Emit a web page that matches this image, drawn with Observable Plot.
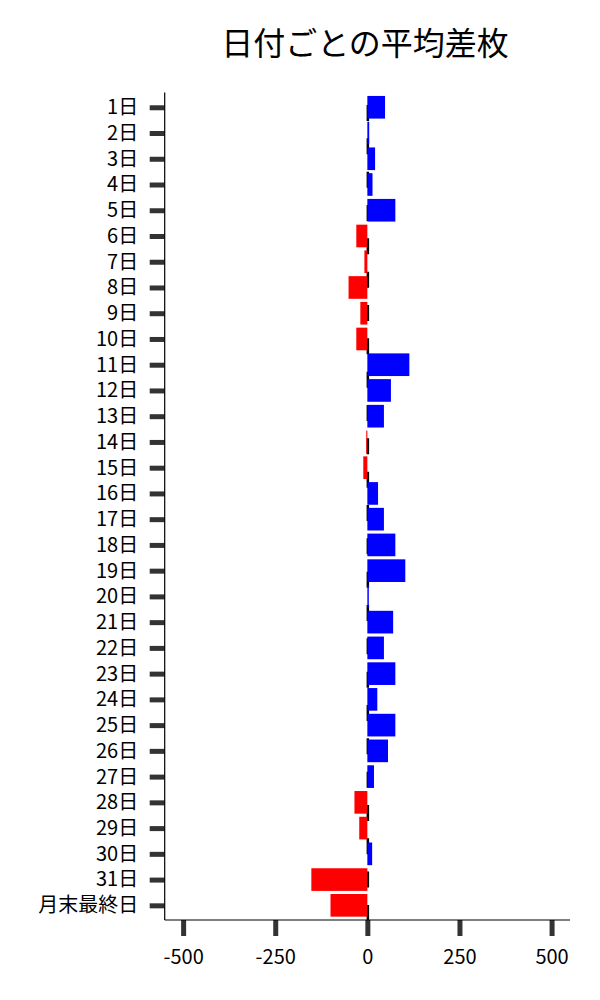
<!DOCTYPE html>
<html><head><meta charset="utf-8">
<script src="https://cdn.jsdelivr.net/npm/d3@7"></script>
<script src="https://cdn.jsdelivr.net/npm/@observablehq/plot@0.6"></script>
<style>
body{margin:0;background:#fff;font-family:"Noto Sans CJK JP";}
#wrap{position:relative;width:600px;}
#title{height:80px;position:relative;}
#title span{position:absolute;left:165px;width:400px;text-align:center;top:25px;font-size:32px;line-height:1;color:#000;white-space:nowrap;}
</style></head><body>
<div id="wrap"><div id="title"><span>日付ごとの平均差枚</span></div><div id="chart"></div></div>
<script>
const days = ["1日","2日","3日","4日","5日","6日","7日","8日","9日","10日","11日","12日","13日","14日","15日","16日","17日","18日","19日","20日","21日","22日","23日","24日","25日","26日","27日","28日","29日","30日","31日","月末最終日"];
const values = [48,5,21,14,76,-30,-8,-51,-19,-30,114,64,45,-3,-11,29,45,76,103,4,70,45,76,27,76,56,18,-35,-22,13,-152,-100];
const xTicks = [-500,-250,0,250,500];
const signKeys = ["pos","neg"];
const signColors = ["#0000ff","#ff0000"];

const data = days.map((d,i)=>({day:d, value: values[i]}));
const chart = Plot.plot({
  width:600, height:920, marginTop:12.6, marginBottom:80, marginLeft:164.7, marginRight:30,
  style:{fontFamily:'"Noto Sans CJK JP"', background:"#fff", color:"#000"},
  x:{domain:[-550,550]},
  y:{domain:days, paddingInner:0.12, paddingOuter:0.13, round:false},
  color:{domain:signKeys, range:signColors},
  marks:[
    Plot.ruleX([0], {stroke:"#000", strokeWidth:2.5, strokeDasharray:"16,17.33", strokeDashoffset:20.9}),
    Plot.barX(data, {x:"value", y:"day", fill: d => d.value >= 0 ? "pos" : "neg"}),
    Plot.axisY({tickSize:15, tickPadding:12, stroke:"#333", strokeWidth:5, fontSize:20, fill:"#000", label:null}),
    Plot.axisX({ticks:xTicks, tickSize:16, tickPadding:13, stroke:"#333", strokeWidth:5, fontSize:20, fill:"#000", tickFormat:d=>String(d), label:null})
  ]
});
const xs = chart.scale("x").range, ys = chart.scale("y").range;
const svg = d3.select(chart);
svg.append("line").attr("x1", xs[0]).attr("x2", xs[0]).attr("y1", ys[0]).attr("y2", ys[1]).attr("stroke","#000").attr("stroke-width",1.2);
svg.append("line").attr("x1", xs[0]).attr("x2", xs[1]).attr("y1", ys[1]).attr("y2", ys[1]).attr("stroke","#000").attr("stroke-width",1.2);
document.getElementById("chart").appendChild(chart);
</script>
</body></html>
